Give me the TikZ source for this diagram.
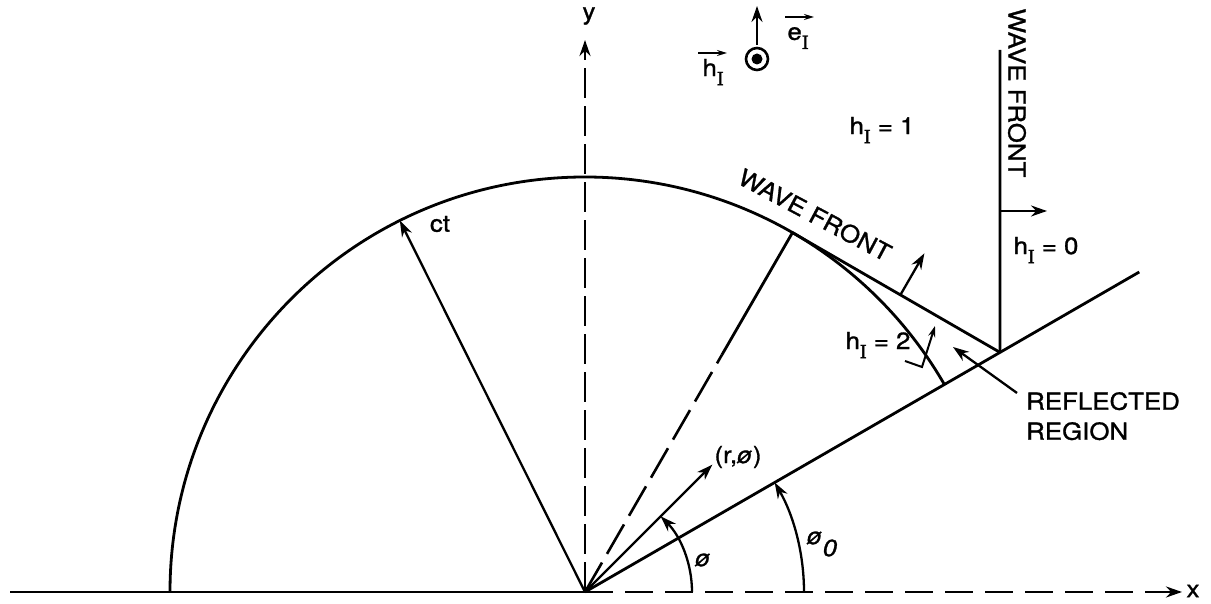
\documentclass[tikz,border=0pt]{standalone}
\usepackage{fontspec}
\setmainfont[FakeStretch=1.1,FakeBold=1.2]{TeX Gyre Heros}
\newfontfamily\serifI[FakeBold=2]{Liberation Serif}
\usetikzlibrary{arrows.meta,calc}
\newcommand{\sI}{\raisebox{-9pt}{\fontsize{20}{20}\selectfont\serifI I}}
\newcommand{\phiit}{{\itshape ø}}
\tikzset{
  lbl/.style={font=\fontsize{23.5}{30}\selectfont, inner sep=0pt},
  mainline/.style={line width=2.8pt},
  arr/.style={line width=2.3pt, -{Stealth[length=16pt,width=11pt]}},
  smallarr/.style={line width=1.6pt, -{Stealth[length=10pt,width=6pt]}},
  xdash/.style={line width=2.8pt, dash pattern=on 28pt off 12pt},
  ydash/.style={line width=2.8pt, dash pattern=on 30pt off 8pt},
  rdash/.style={line width=2.6pt, dash pattern=on 34pt off 10pt},
}
\begin{document}
\begin{tikzpicture}[x=1pt,y=1pt]
\useasboundingbox (0,0) rectangle (1211,604);
% origin and axes
\coordinate (O) at (585,12);
\coordinate (xl) at (10,12);
\coordinate (xe) at (1182,12);
\coordinate (ye) at (585,564);
\node[lbl] (xlab) at (1193,13) {x};
\node[lbl] (ylab) at (589,588) {y};
\draw[mainline] (xl) -- (O);
\draw[xdash, -{Stealth[length=16pt,width=11pt]}] (O) -- (xe);
\draw[ydash, -{Stealth[length=16pt,width=11pt]}] (O) -- (ye);
% circular wave front
\coordinate (A0) at ($(O)+(180:415)$);
\draw[mainline] (A0) arc[start angle=180, end angle=30, radius=415];
% ct radius
\coordinate (C) at ($(O)+(116.5:415)$);
\draw[arr] (O) -- (C);
\node[lbl] (ct) at (440,380) {ct};
% radius to tangent point
\coordinate (T) at ($(O)+(60:415)$);
\coordinate (M) at ($(O)!0.66!(T)$);
\draw[rdash] (O) -- (M);
\draw[mainline] (M) -- (T);
% reflection point, wedge line, reflected front
\coordinate (R) at ($(O)+(30:479.2)$);
\coordinate (P) at ($(O)+(30:640)$);
\draw[mainline] (O) -- (P);
\draw[mainline] (T) -- (R);
% plane wave front
\coordinate (V) at (1000,554);
\draw[mainline] (R) -- (V);
\coordinate (va) at (1000,393);
\coordinate (vb) at (1047,393);
\draw[arr] (va) -- (vb);
% normal of reflected front
\coordinate (N1) at ($(T)!0.52!(R)$);
\coordinate (N2) at ($(N1)+(60:48)$);
\draw[arr] (N1) -- (N2);
% labels
\node[lbl, rotate=-28] (wf1) at (815,389) {WAVE FRONT};
\node[lbl, rotate=-90] (wf2) at (1017,511) {WAVE FRONT};
\node[lbl] (h1) at (882,474) {h\sI{} = 1};
\node[lbl] (h0) at (1046,354) {h\sI{} = 0};
\node[lbl] (h2) at (878,259) {h\sI{} = 2};
% bent arrow near h=2
\coordinate (b1) at (905,243);
\coordinate (b2) at (922,237);
\coordinate (b3) at (935,278);
\draw[line width=2pt, -{Stealth[length=11pt,width=7pt]}] (b1) -- (b2) -- (b3);
% reflected region
\node[lbl, align=left, anchor=north west] (refl) at (1026,212) {REFLECTED\\REGION};
\coordinate (ra) at (1017,211);
\coordinate (rb) at (953,257);
\draw[arr] (ra) -- (rb);
% (r,phi)
\coordinate (Q) at ($(O)+(45:180)$);
\draw[arr] (O) -- (Q);
\node[lbl] (rphi) at (738,147) {(r,\phiit)};
% angle arcs
\coordinate (a1) at ($(O)+(0:107)$);
\draw[arr] (a1) arc[start angle=0, end angle=45, radius=107];
\node[lbl] (phi) at (703,44) {\phiit};
\coordinate (a2) at ($(O)+(0:219)$);
\draw[arr] (a2) arc[start angle=0, end angle=30, radius=219];
\node[lbl] (phi0) at (822,60) {\phiit\raisebox{-12pt}{\itshape 0}};
% incident field symbols
\coordinate (E) at (757,545);
\draw[line width=2.6pt] (E) circle[radius=11];
\fill (E) circle[radius=5.5];
\coordinate (E1) at (757,559);
\coordinate (E2) at (757,598);
\draw[arr, line width=2pt] (E1) -- (E2);
\node[lbl] (hv) at (713,532) {h\sI};
\coordinate (hv1) at (698,551);
\coordinate (hv2) at (727,551);
\draw[smallarr] (hv1) -- (hv2);
\node[lbl] (ev) at (798,566) {e\sI};
\coordinate (ev1) at (785,587);
\coordinate (ev2) at (814,587);
\draw[smallarr] (ev1) -- (ev2);
\end{tikzpicture}
\end{document}
